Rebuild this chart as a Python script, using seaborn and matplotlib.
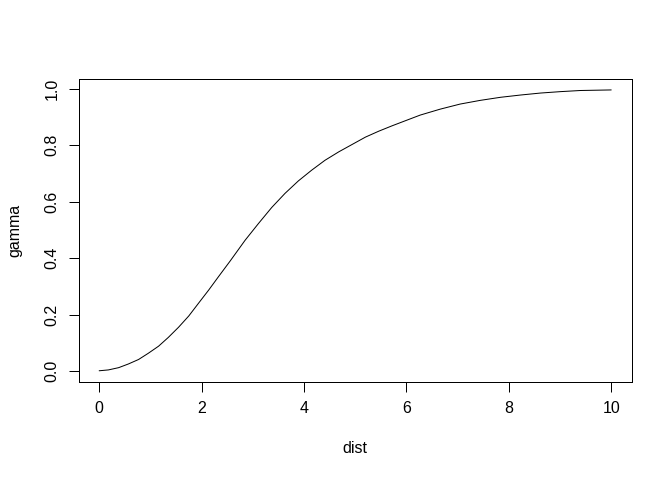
import numpy as np
import pandas as pd
import matplotlib
matplotlib.use("Agg")
import matplotlib.pyplot as plt
import seaborn as sns

# -----------------------------
# DATA
# -----------------------------
dist = [0.0, 0.18, 0.38, 0.57, 0.77, 0.96, 1.16, 1.35, 1.55, 1.75, 1.94,
        2.14, 2.33, 2.56, 2.85, 3.11, 3.37, 3.63, 3.89, 4.15, 4.41, 4.68,
        4.94, 5.20, 5.46, 5.72, 5.98, 6.27, 6.66, 7.05, 7.44, 7.84, 8.23,
        8.62, 9.01, 9.40, 10.0]
gamma = [0.001, 0.004, 0.012, 0.025, 0.041, 0.063, 0.088, 0.119, 0.155, 0.195, 0.240,
         0.287, 0.334, 0.390, 0.463, 0.522, 0.579, 0.629, 0.673, 0.711, 0.746, 0.776,
         0.802, 0.828, 0.849, 0.868, 0.886, 0.906, 0.927, 0.945, 0.958, 0.969, 0.977,
         0.984, 0.989, 0.993, 0.995]

x_ticks = [0, 2, 4, 6, 8, 10]
y_ticks = [0.0, 0.2, 0.4, 0.6, 0.8, 1.0]

df = pd.DataFrame({"dist": dist, "gamma": gamma})

# -----------------------------
# STYLE
# -----------------------------
sns.set_style("white")
plt.rcParams['font.family'] = ['Liberation Sans', 'DejaVu Sans']
plt.rcParams['font.size'] = 12
plt.rcParams['text.color'] = 'black'
plt.rcParams['axes.labelcolor'] = 'black'
plt.rcParams['xtick.color'] = 'black'
plt.rcParams['ytick.color'] = 'black'

fig = plt.figure(figsize=(7, 5), dpi=96)
ax = fig.add_axes([78.7 / 672, 98 / 480, 553 / 672, 303.3 / 480])

sns.lineplot(data=df, x="dist", y="gamma", ax=ax, color="black", linewidth=0.75)

# R-style 4% padding on both axes
xr = max(dist) - min(dist)
yr = max(gamma) - min(gamma)
ax.set_xlim(min(dist) - 0.04 * xr, max(dist) + 0.04 * xr)
ax.set_ylim(min(gamma) - 0.04 * yr, max(gamma) + 0.04 * yr)

ax.set_xticks(x_ticks)
ax.set_xticklabels([str(t) for t in x_ticks])
ax.set_yticks(y_ticks)
ax.set_yticklabels([f"{t:.1f}" for t in y_ticks], rotation=90, va="center")

ax.tick_params(axis="both", direction="out", length=7.2, width=0.75,
               colors="black", labelsize=12, pad=7)
ax.tick_params(axis="x", bottom=True)
ax.tick_params(axis="y", left=True)

for s in ax.spines.values():
    s.set_color("black")
    s.set_linewidth(0.75)

ax.set_xlabel("dist", fontsize=12, labelpad=19)
ax.set_ylabel("gamma", fontsize=12, labelpad=17)

fig.savefig("out.png", dpi=96)
